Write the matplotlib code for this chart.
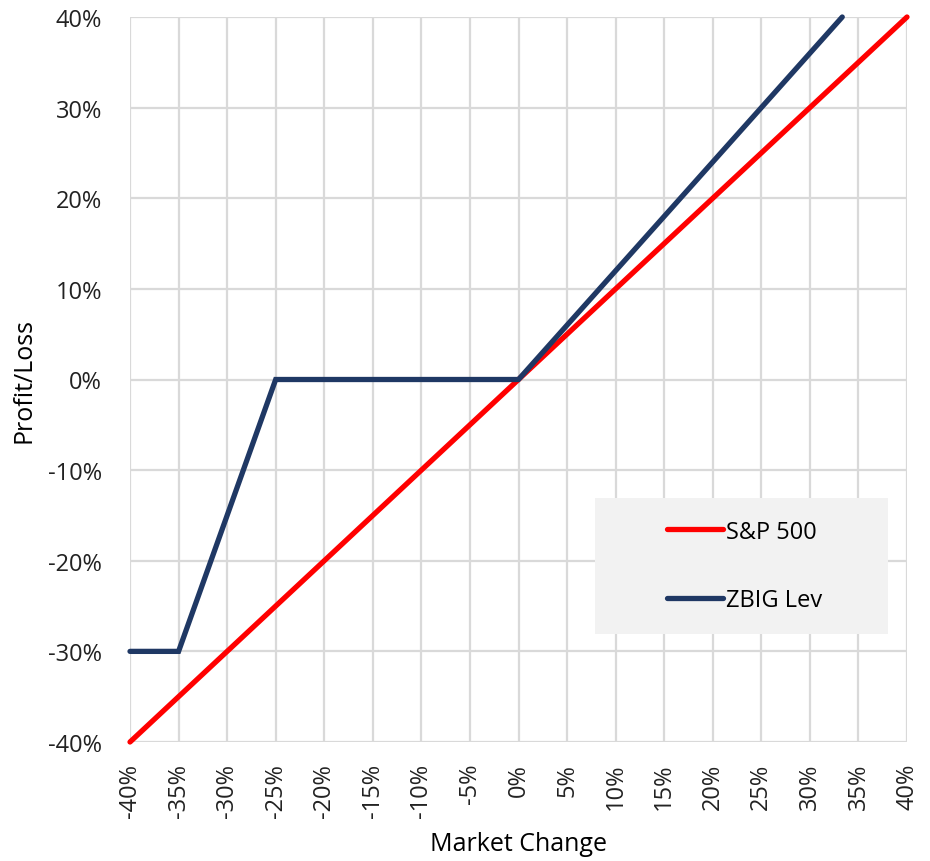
import matplotlib
matplotlib.use('Agg')
import matplotlib.pyplot as plt
from matplotlib.patches import Rectangle
from matplotlib.ticker import FuncFormatter, MultipleLocator

plt.rcParams['font.family'] = ['Open Sans', 'DejaVu Sans']

# market change (%) and payoffs (%)
sp_x = [-40, 40]
sp_y = [-40, 40]
zbig_x = [-40, -35, -25, 0, 40 / 1.2]
zbig_y = [-30, -30, 0, 0, 40]
series_names = ['S&P 500', 'ZBIG Lev']

fig = plt.figure(figsize=(9.30, 8.62), dpi=100)
ax = fig.add_axes([130 / 930, 1 - 743 / 862, 777 / 930, 725 / 862])

ax.set_xlim(-40, 40)
ax.set_ylim(-40, 40)
ax.xaxis.set_major_locator(MultipleLocator(5))
ax.yaxis.set_major_locator(MultipleLocator(10))
pct = FuncFormatter(lambda v, p: f'{v:.0f}%')
ax.xaxis.set_major_formatter(pct)
ax.yaxis.set_major_formatter(pct)
ax.grid(True, color='#d9d9d9', lw=1.6, zorder=0)
for s in ax.spines.values():
    s.set_visible(False)
ax.tick_params(length=0, labelsize=17, labelcolor='#222222')
ax.tick_params(axis='y', pad=20)
ax.tick_params(axis='x', pad=15, labelrotation=90)

ax.axhline(0, color='#6f6f6f', lw=1.3, ls=(0, (4, 3)), zorder=1)
ax.axvline(0, color='#6f6f6f', lw=1.3, ls=(0, (4, 3)), zorder=1)

ax.plot(sp_x, sp_y, color='#ff0000', lw=3.8, label=series_names[0], zorder=3,
        solid_capstyle='round', clip_on=False)
ax.plot(zbig_x, zbig_y, color='#1f3864', lw=3.8, label=series_names[1], zorder=3,
        solid_capstyle='round', solid_joinstyle='miter', clip_on=False)

ax.add_patch(Rectangle(((595 - 130) / 777, (743 - 635) / 725), 293 / 777, 136 / 725,
                       transform=ax.transAxes, facecolor='#f2f2f2', edgecolor='none', zorder=4))
leg = ax.legend(loc='center left', bbox_to_anchor=((655 - 130) / 777, (743 - 567) / 725),
                frameon=False, fontsize=17, handlelength=2.4, handletextpad=0.1,
                labelspacing=1.9, borderpad=0)
leg.set_zorder(5)

ax.set_ylabel('Profit/Loss', fontsize=18, labelpad=8)
ax.set_xlabel('Market Change', fontsize=18, labelpad=10)

fig.savefig('out.png', dpi=100)
